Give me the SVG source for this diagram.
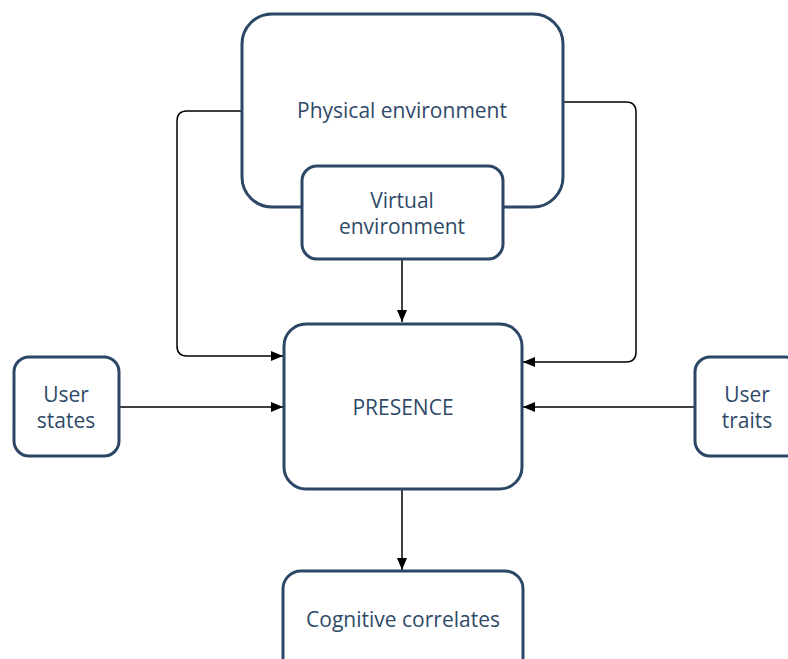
<svg xmlns="http://www.w3.org/2000/svg" width="788" height="659" viewBox="0 0 788 659">
<defs>
<style>
.n{fill:#fff;stroke:#2c4766;stroke-width:3}
.t{font-family:"Open Sans","Noto Sans",sans-serif;font-size:21px;fill:#2f4a68;text-anchor:middle}
.c{fill:none;stroke:#000;stroke-width:1.5}
</style>
<marker id="a" viewBox="0 0 12 10" refX="12" refY="5" markerWidth="12" markerHeight="10" markerUnits="userSpaceOnUse" orient="auto">
<path d="M0,0 L12,5 L0,10 Z" fill="#000"/>
</marker>
</defs>
<rect width="788" height="659" fill="#fff"/>
<g id="connectors">
<path class="c" d="M242,111 H187 Q177,111 177,121 V346 Q177,356 187,356 H283" marker-end="url(#a)"/>
<path class="c" d="M563,102 H626 Q636,102 636,112 V352 Q636,362 626,362 H523" marker-end="url(#a)"/>
<path class="c" d="M119,407 H283" marker-end="url(#a)"/>
<path class="c" d="M694,407 H523" marker-end="url(#a)"/>
<path class="c" d="M402,260 V322" marker-end="url(#a)"/>
<path class="c" d="M402,490 V570" marker-end="url(#a)"/>
</g>
<g id="physical">
<rect class="n" x="242" y="14" width="321" height="193" rx="30"/>
<text class="t" x="402" y="118">Physical environment</text>
</g>
<g id="virtual">
<rect class="n" x="302" y="166" width="201" height="93" rx="15"/>
<text class="t" x="402" y="208">Virtual</text>
<text class="t" x="402" y="234">environment</text>
</g>
<g id="presence">
<rect class="n" x="284" y="324" width="238" height="165" rx="22"/>
<text class="t" x="403" y="415">PRESENCE</text>
</g>
<g id="states">
<rect class="n" x="14" y="357" width="105" height="99" rx="15"/>
<text class="t" x="66" y="402">User</text>
<text class="t" x="66" y="428">states</text>
</g>
<g id="traits">
<rect class="n" x="695" y="357" width="105" height="99" rx="15"/>
<text class="t" x="747" y="402">User</text>
<text class="t" x="747" y="428">traits</text>
</g>
<g id="cognitive">
<rect class="n" x="283" y="571" width="240" height="110" rx="18"/>
<text class="t" x="403" y="627">Cognitive correlates</text>
</g>
</svg>
